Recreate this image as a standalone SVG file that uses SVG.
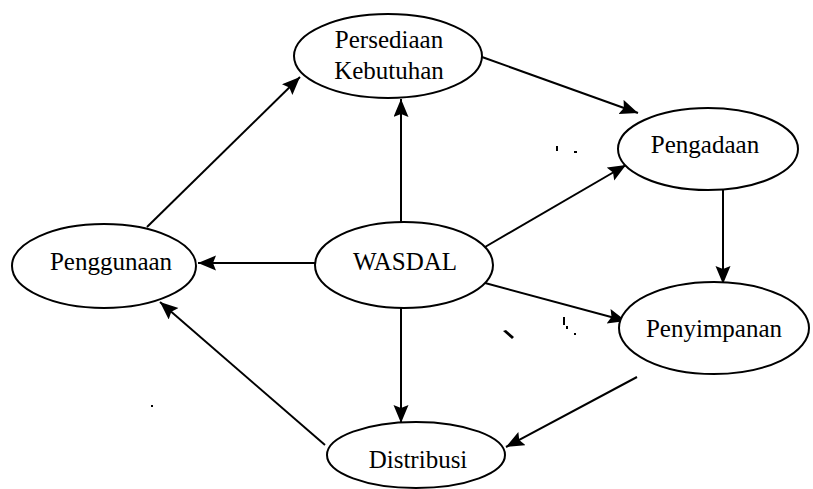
<svg xmlns="http://www.w3.org/2000/svg" width="813" height="489" viewBox="0 0 813 489">
  <style>
    .node ellipse { fill: #ffffff; stroke: #000000; stroke-width: 2; }
    .node text { font-family: "Liberation Serif", "Times New Roman", serif; font-size: 25px; fill: #000000; text-anchor: middle; }
    .edge { stroke: #000000; stroke-width: 2; fill: none; marker-end: url(#head); }
    .speck { fill: #000000; }
  </style>
  <defs>
    <marker id="head" markerUnits="userSpaceOnUse" markerWidth="20" markerHeight="16" refX="18" refY="7.5" orient="auto">
      <path d="M0,0 L18,7.5 L0,15 L3,7.5 Z" fill="#000000"/>
    </marker>
  </defs>

  <rect width="813" height="489" fill="#ffffff"/>

  <!-- connectors -->
  <g id="connectors">
    <line class="edge" x1="147" y1="227" x2="300" y2="77"/>
    <line class="edge" x1="482" y1="57" x2="638" y2="113"/>
    <line class="edge" x1="401" y1="222" x2="401" y2="99"/>
    <line class="edge" x1="485" y1="247" x2="626" y2="165"/>
    <line class="edge" x1="723" y1="190" x2="723" y2="284"/>
    <line class="edge" x1="485" y1="283" x2="626" y2="321"/>
    <line class="edge" x1="315" y1="263" x2="198" y2="263"/>
    <line class="edge" x1="401" y1="308" x2="401" y2="423"/>
    <line class="edge" x1="637" y1="377" x2="506" y2="447"/>
    <line class="edge" x1="325" y1="445" x2="160" y2="302"/>
  </g>

  <!-- nodes -->
  <g id="persediaan" class="node">
    <ellipse cx="388" cy="56" rx="94" ry="42"/>
    <text x="389" y="48">Persediaan</text>
    <text x="389" y="79">Kebutuhan</text>
  </g>
  <g id="pengadaan" class="node">
    <ellipse cx="708" cy="149" rx="90" ry="41"/>
    <text x="705" y="153">Pengadaan</text>
  </g>
  <g id="penggunaan" class="node">
    <ellipse cx="104" cy="266" rx="92" ry="42"/>
    <text x="111" y="270">Penggunaan</text>
  </g>
  <g id="wasdal" class="node">
    <ellipse cx="404" cy="265" rx="89" ry="43"/>
    <text x="405" y="270">WASDAL</text>
  </g>
  <g id="penyimpanan" class="node">
    <ellipse cx="714" cy="328" rx="95" ry="46"/>
    <text x="714" y="337">Penyimpanan</text>
  </g>
  <g id="distribusi" class="node">
    <ellipse cx="416" cy="455" rx="89" ry="33"/>
    <text x="418" y="468">Distribusi</text>
  </g>

  <!-- small specks -->
  <g id="specks">
    <path class="speck" d="M503,331 L506,330 L514,337 L512,339 Z"/>
    <rect class="speck" x="563" y="317" width="2" height="8"/>
    <rect class="speck" x="566" y="326" width="2" height="3"/>
    <rect class="speck" x="574" y="333" width="2" height="2"/>
    <rect class="speck" x="556" y="146" width="2" height="5"/>
    <rect class="speck" x="574" y="151" width="3" height="2"/>
    <rect class="speck" x="151" y="405" width="2" height="2"/>
  </g>
</svg>
